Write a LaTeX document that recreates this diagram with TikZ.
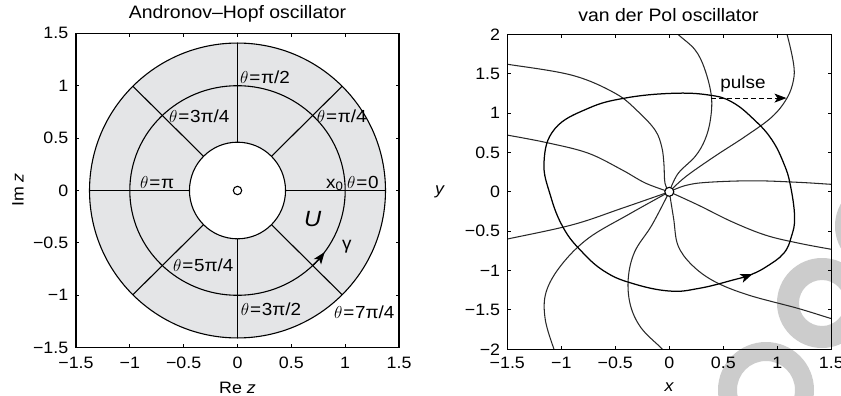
\documentclass[tikz,border=0pt]{standalone}
\usepackage{fontspec}
\setmainfont[FakeStretch=1.08]{Liberation Sans}
\usetikzlibrary{arrows.meta}
\definecolor{annul}{RGB}{228,229,231}
\definecolor{curv}{RGB}{40,40,40}
\definecolor{wm}{RGB}{204,204,204}
\tikzset{
  axisbox/.style={line width=1.3pt, black},
  tickmark/.style={line width=0.9pt, black},
  ticklab/.style={font=\fontsize{16.5}{17}\selectfont, inner sep=0pt},
  titlelab/.style={font=\fontsize{18}{18}\selectfont, inner sep=0pt},
  thlab/.style={font=\fontsize{17.5}{17.5}\selectfont, inner sep=0pt, anchor=base west},
  ringline/.style={line width=1.1pt, black},
  isoc/.style={line width=1.05pt, curv},
  limitcyc/.style={line width=1.25pt, black},
  tipstyle/.style={-{Stealth[length=12pt, width=9pt, inset=3pt]}},
}
\newcommand{\thq}{$\theta$\kern0.8pt=\kern0.8pt}
\begin{document}
\begin{tikzpicture}[x=1pt, y=-1pt]
\useasboundingbox (0,0) rectangle (841,396);
\fill[white] (0,0) rectangle (841,396);
% watermark rings
\begin{scope}
  \clip (0,0) rectangle (841,396);
  \fill[wm, even odd rule] (822,303) circle[radius=45pt] (822,303) circle[radius=23pt];
  \fill[wm, even odd rule] (766,390) circle[radius=48pt] (766,390) circle[radius=29pt];
  \fill[wm, even odd rule] (880,226) circle[radius=45pt] (880,226) circle[radius=23pt];
\end{scope}

% ---------------- Left panel ----------------
\begin{scope}[shift={(237.5,190.5)}, x=107.7pt, y=104.8pt]
  \fill[annul, even odd rule] (0,0) ellipse[x radius=1.374, y radius=1.407]
                               (0,0) ellipse[x radius=0.446, y radius=0.461];
  \draw[ringline] (0,0) ellipse[x radius=1.374, y radius=1.407];
  \draw[ringline] (0,0) ellipse[x radius=1, y radius=1];
  \draw[ringline] (0,0) ellipse[x radius=0.446, y radius=0.461];
  \foreach \a in {0,45,...,315}
    \draw[ringline] ({0.446*cos(\a)},{0.461*sin(\a)}) -- ({1.374*cos(\a)},{1.407*sin(\a)});
  \draw[ringline] (0,0) circle[radius=4.2pt];
  \draw[ringline, tipstyle] (-46:1) arc[start angle=-46, end angle=-36, radius=1];
  \foreach \t in {-1.5,-1,-0.5,0,0.5,1,1.5} {
    \draw[tickmark] (\t,-1.5) -- ++(0,3.5pt);
    \draw[tickmark] (\t,1.5) -- ++(0,-3.5pt);
    \draw[tickmark] (-1.5,\t) -- ++(3.5pt,0);
    \draw[tickmark] (1.5,\t) -- ++(-3.5pt,0);
  }
  \draw[axisbox] (-1.5,-1.5) rectangle (1.5,1.5);
  \foreach \v/\s in {1.5/1.5,1/1,0.5/0.5,0/0,-0.5/−0.5,-1/−1,-1.5/−1.5} {
    \node[ticklab, anchor=east] at ([xshift=-7.5pt]-1.5,\v) {\s};
    \node[ticklab, anchor=north] at ([yshift=-9pt]\v,-1.5) {\s};
  }
\end{scope}
\node[titlelab] (t1) at (237.5,14) {Andronov–Hopf oscillator};
\node[ticklab, anchor=base] (rez) at (237.5,393) {Re \textit{z}};
\node[ticklab, rotate=90] (imz) at (18,190) {Im \textit{z}};
\node[thlab] (l1) at (240,83.3) {\thq π/2};
\node[thlab] (l2) at (169,122.7) {\thq 3π/4};
\node[thlab] (l3) at (316.7,122.7) {\thq π/4};
\node[thlab] (l4) at (140,188.3) {\thq π};
\node[thlab] (l5) at (326,188.3) {x\textsubscript{0}};
\node[thlab] (l6) at (347,188.3) {\thq 0};
\node[thlab] (l7) at (173,271.7) {\thq 5π/4};
\node[thlab] (l8) at (240.7,315) {\thq 3π/2};
\node[thlab] (l9) at (334,318.3) {\thq 7π/4};
\node[thlab, font=\fontsize{22}{22}\selectfont\itshape] (lU) at (304,226) {U};
\node[thlab] (lg) at (342,249) {γ};

% ---------------- Right panel ----------------
\begin{scope}[shift={(669.3,191.8)}, x=108pt, y=78.75pt]
  \begin{scope}
    \clip (-1.5,-2) rectangle (1.5,2);
    \draw[isoc] plot[smooth, tension=0.6] coordinates {(-1.6,1.64) (-1.5,1.62) (-0.90,1.48) (-0.50,1.25) (-0.29,1.02) (-0.13,0.78) (-0.07,0.57) (-0.05,0.36) (-0.04,0.11) (0,0)};
    \draw[isoc] plot[smooth, tension=0.6] coordinates {(0.0,2.12) (0.08,2.0) (0.24,1.80) (0.33,1.55) (0.39,1.21) (0.38,0.91) (0.33,0.66) (0.24,0.45) (0.08,0.23) (0,0)};
    \draw[isoc] plot[smooth, tension=0.6] coordinates {(1.05,2.12) (1.09,2.0) (1.15,1.63) (1.15,1.42) (1.09,1.19) (0.95,0.95) (0.70,0.70) (0.42,0.45) (0.15,0.19) (0,0)};
    \draw[isoc] plot[smooth, tension=0.6] coordinates {(-1.6,0.74) (-1.5,0.72) (-1.12,0.62) (-0.75,0.49) (-0.44,0.28) (-0.22,0.11) (0,0)};
    \draw[isoc] plot[smooth, tension=0.6] coordinates {(0,0) (0.15,0.08) (0.35,0.12) (0.78,0.14) (1.2,0.12) (1.5,0.095) (1.6,0.09)};
    \draw[isoc] plot[smooth, tension=0.6] coordinates {(0,0) (0.27,-0.17) (0.58,-0.38) (0.89,-0.55) (1.19,-0.65) (1.5,-0.73) (1.6,-0.75)};
    \draw[isoc] plot[smooth, tension=0.6] coordinates {(0,0) (0.04,-0.34) (0.08,-0.68) (0.21,-0.93) (0.42,-1.14) (0.73,-1.31) (1.19,-1.48) (1.5,-1.61) (1.6,-1.64)};
    \draw[isoc] plot[smooth, tension=0.6] coordinates {(0,0) (-0.16,-0.42) (-0.32,-0.76) (-0.38,-1.10) (-0.36,-1.44) (-0.26,-1.73) (-0.07,-1.99) (0.0,-2.1)};
    \draw[isoc] plot[smooth, tension=0.6] coordinates {(0,0) (-0.38,-0.29) (-0.75,-0.59) (-1.00,-0.93) (-1.14,-1.27) (-1.15,-1.61) (-1.07,-1.99) (-1.03,-2.1)};
    \draw[isoc] plot[smooth, tension=0.6] coordinates {(0,0) (-0.44,-0.21) (-0.90,-0.42) (-1.5,-0.60) (-1.6,-0.63)};
  \end{scope}
  \draw[limitcyc] plot[smooth cycle, tension=0.7] coordinates {(0.02,1.25) (0.36,1.23) (0.58,1.14) (0.79,0.91) (0.95,0.66) (1.06,0.36) (1.12,0.09) (1.16,-0.32) (1.13,-0.57) (1.06,-0.78) (0.90,-0.95) (0.75,-1.055) (0.59,-1.12) (0.28,-1.225) (0.0,-1.26) (-0.35,-1.16) (-0.60,-1.01) (-0.81,-0.76) (-0.98,-0.46) (-1.10,-0.05) (-1.16,0.38) (-1.06,0.80) (-0.75,1.06) (-0.41,1.19)};
  \draw[limitcyc, tipstyle] (0.70,-1.082) -- (0.77,-1.045);
  \draw[line width=1pt, dash pattern=on 5pt off 3pt, tipstyle] (0.39,1.19) -- (1.085,1.19);
  \filldraw[fill=white, draw=black, line width=1.1pt] (0,0) circle[radius=4.5pt];
  \foreach \t in {-1.5,-1,-0.5,0,0.5,1,1.5} {
    \draw[tickmark] (\t,-2) -- ++(0,3.5pt);
    \draw[tickmark] (\t,2) -- ++(0,-3.5pt);
  }
  \foreach \t in {-2,-1.5,-1,-0.5,0,0.5,1,1.5,2} {
    \draw[tickmark] (-1.5,\t) -- ++(3.5pt,0);
    \draw[tickmark] (1.5,\t) -- ++(-3.5pt,0);
  }
  \draw[axisbox] (-1.5,-2) rectangle (1.5,2);
  \foreach \v/\s in {2/2,1.5/1.5,1/1,0.5/0.5,0/0,-0.5/−0.5,-1/−1,-1.5/−1.5,-2/−2}
    \node[ticklab, anchor=east] at ([xshift=-7pt]-1.5,\v) {\s};
  \foreach \v/\s in {1.5/1.5,1/1,0.5/0.5,0/0,-0.5/−0.5,-1/−1,-1.5/−1.5}
    \node[ticklab, anchor=north] at ([yshift=-7.5pt]\v,-2) {\s};
\end{scope}
\node[titlelab] (t2) at (668.5,15) {van der Pol oscillator};
\node[ticklab, anchor=base] (xl) at (669.3,391.7) {\textit{x}};
\node[ticklab] (yl) at (440,191.7) {\textit{y}};
\node[thlab, anchor=center] (pl) at (743,84) {pulse};
\end{tikzpicture}
\end{document}
